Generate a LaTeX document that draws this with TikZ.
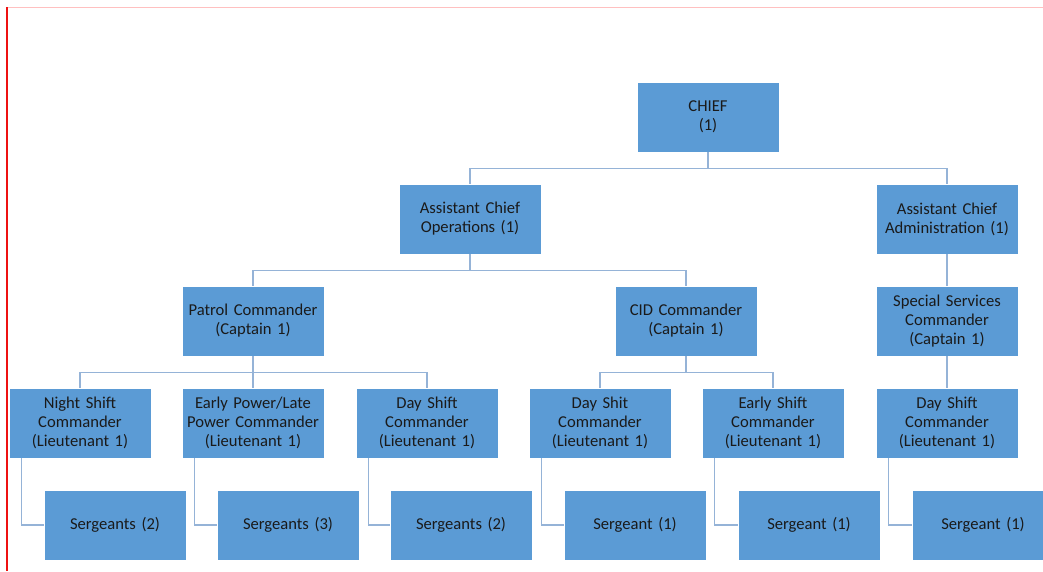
\documentclass[tikz,border=0pt]{standalone}
\usepackage{fontspec}
\setmainfont{Carlito}
\definecolor{orgfill}{HTML}{5B9BD5}
\definecolor{orgline}{HTML}{95B3D7}
\definecolor{orgtext}{HTML}{1A1A1A}
\definecolor{edgered}{HTML}{EE1111}
\definecolor{edgepink}{HTML}{FFC0C0}
\tikzset{
  orgbox/.style={
    draw=white, line width=0.8pt, fill=orgfill, text=orgtext,
    minimum width=142pt, minimum height=70pt, text width=136pt,
    align=center, inner sep=2pt, font=\fontsize{16.6}{19}\selectfont
  },
  orglink/.style={
    draw=orgline, line width=1.4pt
  }
}
\begin{document}
\begin{tikzpicture}[x=1pt, y=-1pt]
  \useasboundingbox (0,0) rectangle (1043,571);
  \clip (0,0) rectangle (1043,571);

  % Page edges
  \draw[edgepink, line width=1pt] (7,7) -- (1043,7);
  \draw[edgered, line width=2pt] (7,7) -- (7,571);

  % Top levels
  \node[orgbox] (chief) at (708,117) {CHIEF\\(1)};
  \node[orgbox] (aops)  at (470,219) {Assistant Chief\\Operations (1)};
  \node[orgbox] (aadm)  at (947,219) {Assistant Chief\\Administration (1)};

  % Captains
  \node[orgbox] (patrol)  at (253,321) {Patrol Commander\\(Captain 1)};
  \node[orgbox] (cid)     at (686,321) {CID Commander\\(Captain 1)};
  \node[orgbox] (special) at (947,321) {Special Services\\Commander\\(Captain 1)};

  % Lieutenants
  \node[orgbox] (night)  at (80,423)  {Night Shift\\Commander\\(Lieutenant 1)};
  \node[orgbox] (early)  at (253,423) {Early Power/Late\\Power Commander\\(Lieutenant 1)};
  \node[orgbox] (day)    at (427,423) {Day Shift\\Commander\\(Lieutenant 1)};
  \node[orgbox] (cidday) at (600,423) {Day Shit\\Commander\\(Lieutenant 1)};
  \node[orgbox] (cidearly) at (773,423) {Early Shift\\Commander\\(Lieutenant 1)};
  \node[orgbox] (ssday)  at (947,423) {Day Shift\\Commander\\(Lieutenant 1)};

  % Sergeants
  \node[orgbox] (sg1) at (115,525) {Sergeants (2)};
  \node[orgbox] (sg2) at (288,525) {Sergeants (3)};
  \node[orgbox] (sg3) at (461,525) {Sergeants (2)};
  \node[orgbox] (sg4) at (635,525) {Sergeant (1)};
  \node[orgbox] (sg5) at (809,525) {Sergeant (1)};
  \node[orgbox] (sg6) at (983,525) {Sergeant (1)};

  % Links
  \draw[orglink] (chief.south) -- ++(0,16) -| (aops.north);
  \draw[orglink] (chief.south) -- ++(0,16) -| (aadm.north);
  \draw[orglink] (aops.south) -- ++(0,16) -| (patrol.north);
  \draw[orglink] (aops.south) -- ++(0,16) -| (cid.north);
  \draw[orglink] (aadm) -- (special);
  \draw[orglink] (patrol.south) -- ++(0,16) -| (night.north);
  \draw[orglink] (patrol.south) -- ++(0,16) -| (early.north);
  \draw[orglink] (patrol.south) -- ++(0,16) -| (day.north);
  \draw[orglink] (cid.south) -- ++(0,16) -| (cidday.north);
  \draw[orglink] (cid.south) -- ++(0,16) -| (cidearly.north);
  \draw[orglink] (special) -- (ssday);
  \draw[orglink] ([xshift=13pt]night.south west) |- (sg1.west);
  \draw[orglink] ([xshift=13pt]early.south west) |- (sg2.west);
  \draw[orglink] ([xshift=13pt]day.south west) |- (sg3.west);
  \draw[orglink] ([xshift=13pt]cidday.south west) |- (sg4.west);
  \draw[orglink] ([xshift=13pt]cidearly.south west) |- (sg5.west);
  \draw[orglink] ([xshift=13pt]ssday.south west) |- (sg6.west);
\end{tikzpicture}
\end{document}
